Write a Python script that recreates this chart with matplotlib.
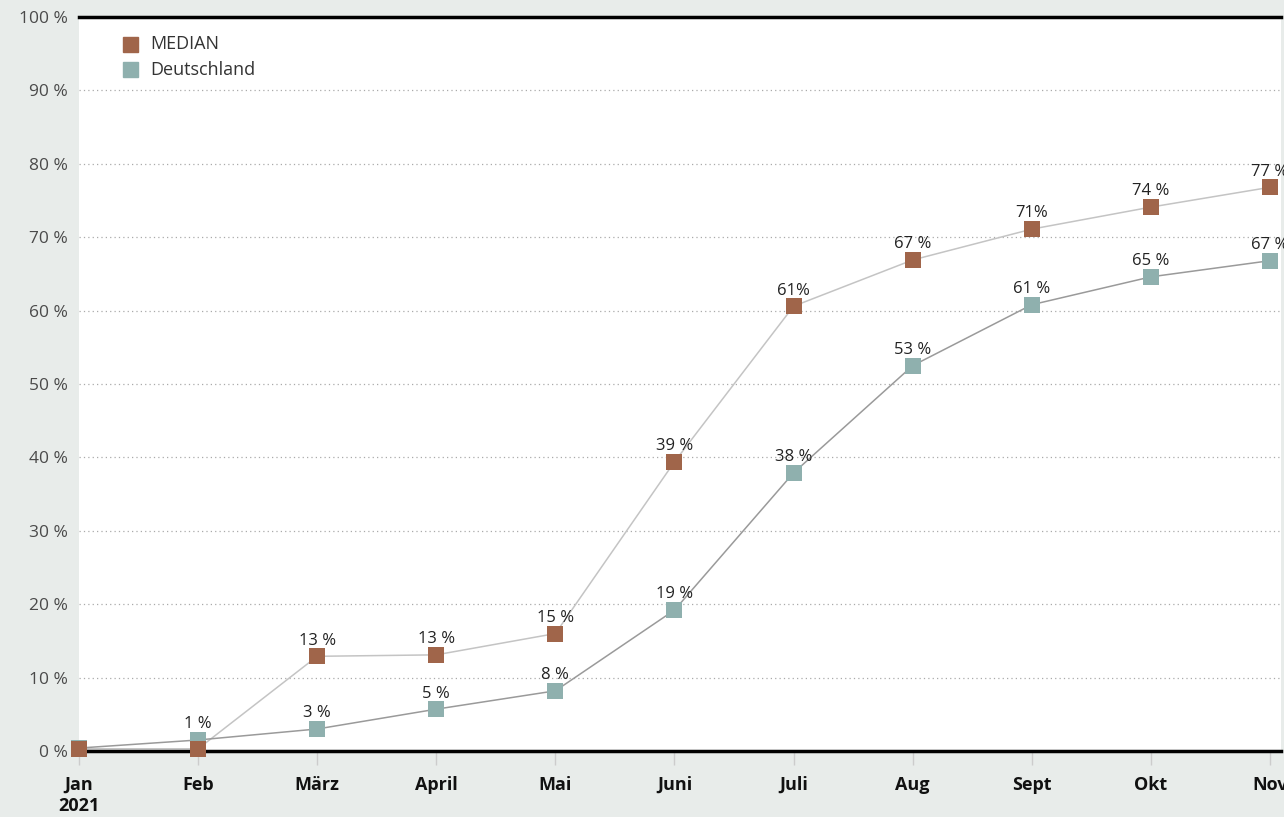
import matplotlib.pyplot as plt
import numpy as np

months = ["Jan\n2021", "Feb", "März", "April", "Mai", "Juni", "Juli", "Aug", "Sept", "Okt", "Nov"]
median = [0.3, 0.3, 12.9, 13.1, 16.0, 39.4, 60.6, 66.9, 71.1, 74.1, 76.8]
deutschland = [0.4, 1.5, 3.0, 5.7, 8.2, 19.2, 37.9, 52.5, 60.8, 64.6, 66.8]
median_labels = ["", "", "13 %", "13 %", "15 %", "39 %", "61%", "67 %", "71%", "74 %", "77 %"]
de_labels = ["", "1 %", "3 %", "5 %", "8 %", "19 %", "38 %", "53 %", "61 %", "65 %", "67 %"]

c_med = "#a0654a"
c_de = "#8fb0ae"
bg = "#e8ecea"

plt.rcParams['font.family'] = ['Open Sans', 'DejaVu Sans']

fig = plt.figure(figsize=(12.84, 8.17), dpi=100, facecolor=bg)
ax = fig.add_axes([79/1284, 1 - 751/817, (1281 - 79)/1284, (751 - 17)/817])
ax.set_facecolor("white")

x = np.arange(len(months))
ax.plot(x, median, color="#c4c4c4", lw=1.1, zorder=2)
ax.plot(x, deutschland, color="#9a9a9a", lw=1.1, zorder=2)
ax.scatter(x, deutschland, marker="s", s=140, color=c_de, zorder=3, clip_on=False, linewidths=0)
ax.scatter(x, median, marker="s", s=140, color=c_med, zorder=4, clip_on=False, linewidths=0)

for xi, v, lab in zip(x, median, median_labels):
    if lab:
        ax.annotate(lab, (xi, v), xytext=(0, 5.5), textcoords="offset points",
                    ha="center", va="bottom", fontsize=12, color="#222222")
for xi, v, lab in zip(x, deutschland, de_labels):
    if lab:
        ax.annotate(lab, (xi, v), xytext=(0, 5.5), textcoords="offset points",
                    ha="center", va="bottom", fontsize=12, color="#222222")

ax.set_xlim(0, 10 + 11/119)
ax.set_ylim(0, 100)
ax.set_yticks(np.arange(0, 101, 10))
ax.set_yticklabels([f"{v} %" for v in range(0, 101, 10)])
ax.set_xticks(x)
ax.set_xticklabels(months, fontweight="bold")
ax.tick_params(axis="y", length=0, pad=8, labelsize=12.5, labelcolor="#4a4a4a")
ax.tick_params(axis="x", length=10, width=1, color="#cccccc", pad=8, labelsize=13, labelcolor="#111111")

for g in range(10, 100, 10):
    ax.axhline(g, color="#aaaaaa", lw=0.9, ls=(0, (1, 2.5)), zorder=1)

for s in ["left", "right"]:
    ax.spines[s].set_visible(False)
ax.spines["top"].set_linewidth(2.5)
ax.spines["bottom"].set_linewidth(2.5)
ax.spines["top"].set_color("black")
ax.spines["bottom"].set_color("black")

# legend
fig.patches.append(plt.Rectangle((123/1284, 1 - 52/817), 15/1284, 15/817, transform=fig.transFigure, color=c_med))
fig.patches.append(plt.Rectangle((123/1284, 1 - 77/817), 15/1284, 15/817, transform=fig.transFigure, color=c_de))
fig.text(150/1284, 1 - 44/817, "MEDIAN", va="center", ha="left", fontsize=13, color="#333333")
fig.text(150/1284, 1 - 70/817, "Deutschland", va="center", ha="left", fontsize=13, color="#333333")

fig.savefig("out.png", dpi=100, facecolor=bg)
